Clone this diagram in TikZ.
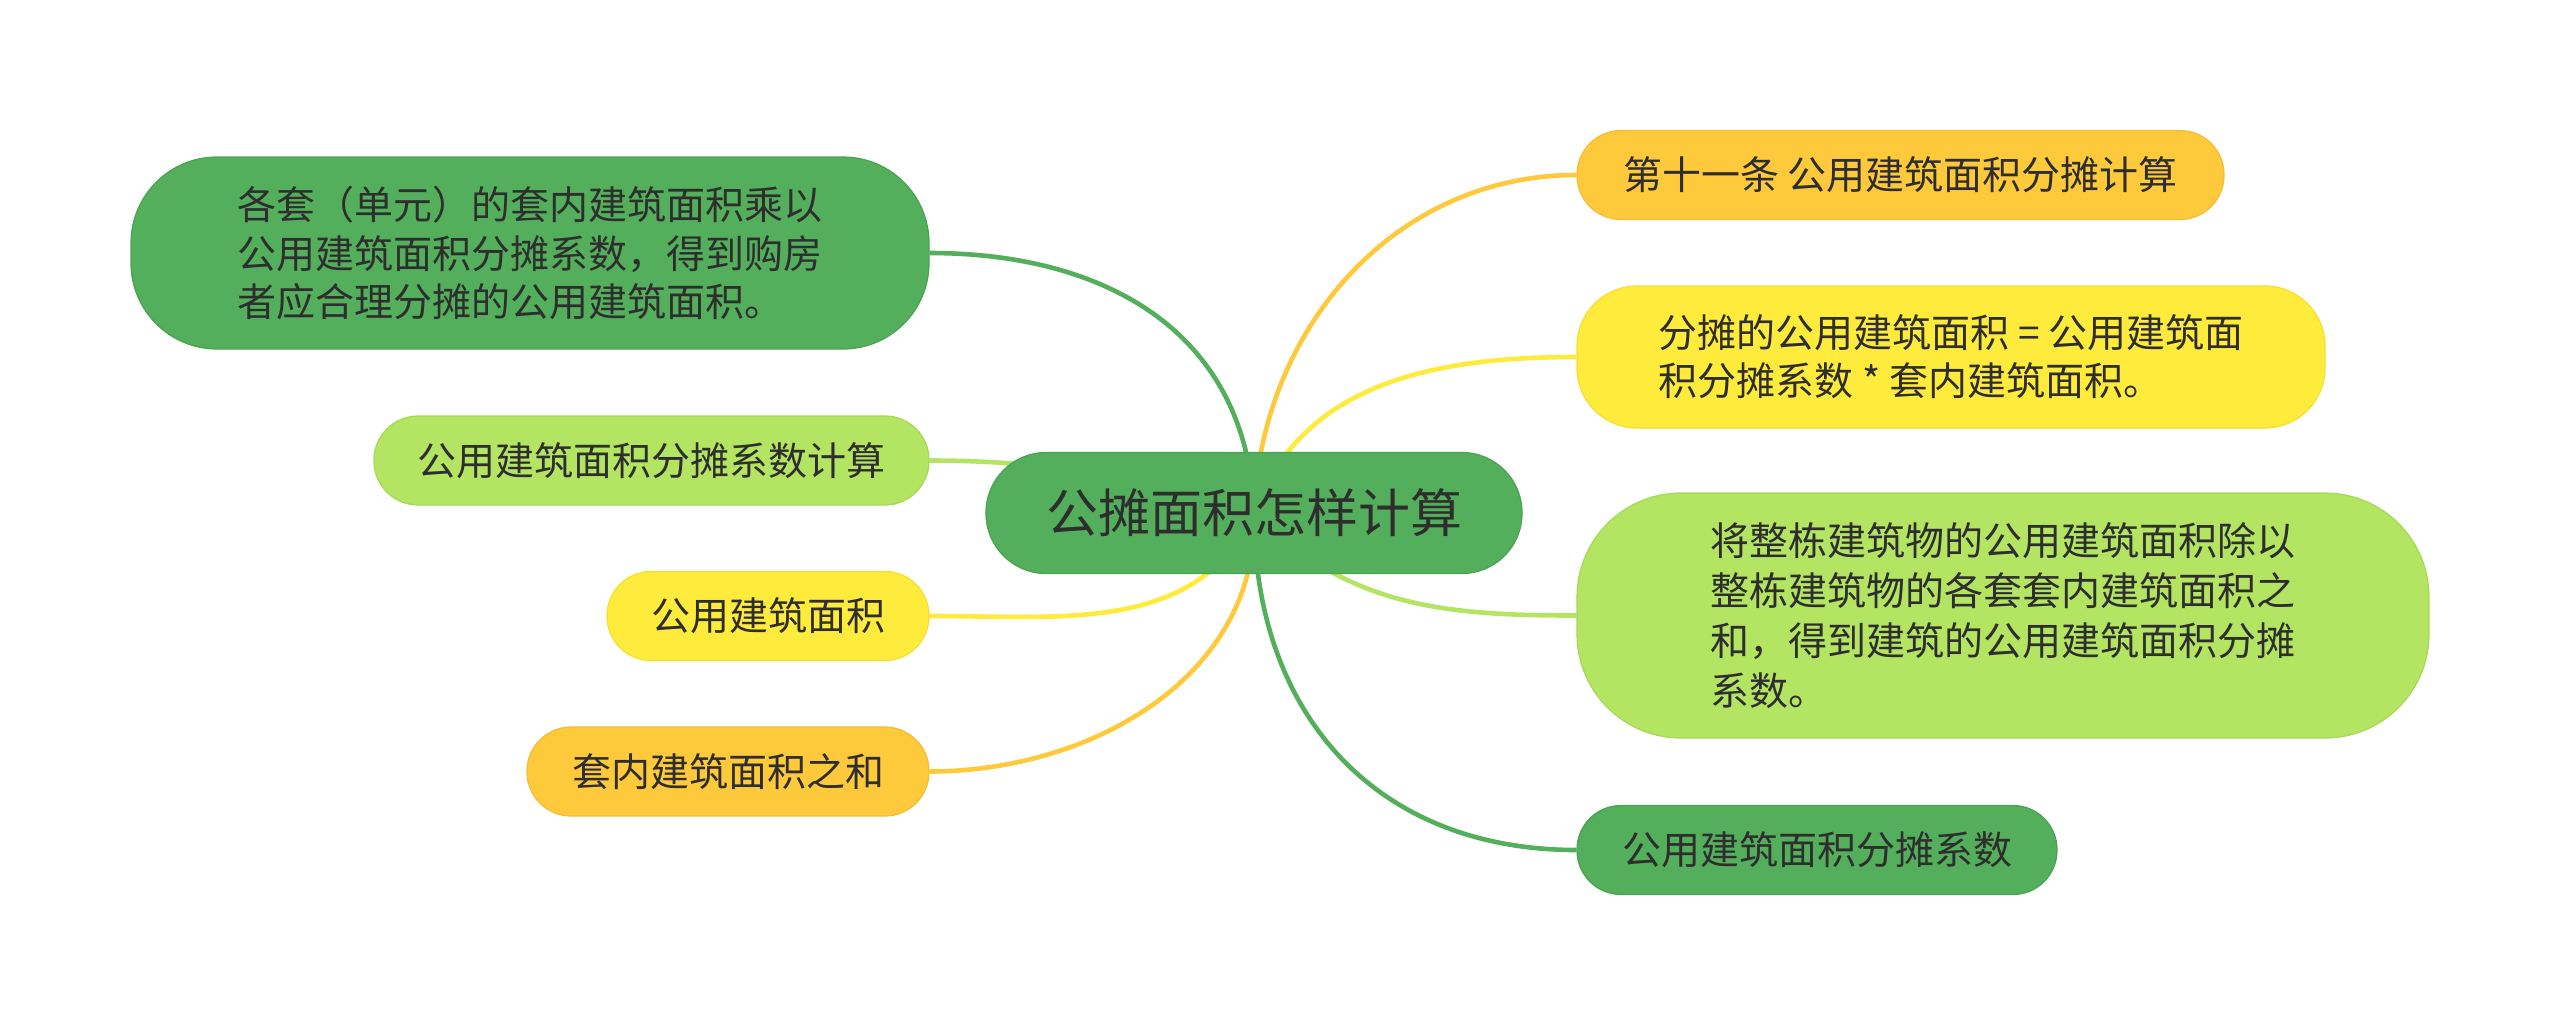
\documentclass[tikz,border=0pt]{standalone}
\usepackage{fontspec}
\setmainfont{Noto Sans CJK SC}
\definecolor{cdg}{HTML}{53AF5B}
\definecolor{cdgb}{HTML}{4AA352}
\definecolor{clg}{HTML}{B3E462}
\definecolor{clgb}{HTML}{A5D956}
\definecolor{cyl}{HTML}{FFEB3B}
\definecolor{cylb}{HTML}{F5E030}
\definecolor{cog}{HTML}{FFC93C}
\definecolor{cogb}{HTML}{F5BE32}
\definecolor{txt}{HTML}{2E2E2E}
\pgfdeclarelayer{bg}
\pgfsetlayers{bg,main}
\begin{document}
\begin{tikzpicture}[x=0.5pt,y=0.5pt,
  base/.style={rectangle, inner sep=0pt, text=txt, align=left, line width=0.6pt,
    font=\fontsize{19.5}{24}\selectfont},
  dg/.style={base, fill=cdg, draw=cdgb},
  lg/.style={base, fill=clg, draw=clgb},
  yl/.style={base, fill=cyl, draw=cylb},
  og/.style={base, fill=cog, draw=cogb},
  pill/.style={minimum height=44.5pt, rounded corners=22pt},
  link/.style={line width=2.3pt}]
\useasboundingbox (0,0) rectangle (2560,-1025);

% root
\node[dg, minimum width=268pt, minimum height=60.5pt, rounded corners=30pt,
  font=\fontsize{26}{32}\selectfont] (root) at (1254,-513) {公摊面积怎样计算};

% left side
\node[dg, minimum width=399pt, minimum height=96pt, rounded corners=43pt,
  font=\fontsize{19.5}{24.2}\selectfont] (l1) at (530,-253)
  {各套（单元）的套内建筑面积乘以\\公用建筑面积分摊系数，得到购房\\者应合理分摊的公用建筑面积。};
\node[lg, pill, minimum width=277.5pt] (l2) at (651.5,-460.5) {公用建筑面积分摊系数计算};
\node[yl, pill, minimum width=161pt] (l3) at (768,-616) {公用建筑面积};
\node[og, pill, minimum width=201pt] (l4) at (728,-771.5) {套内建筑面积之和};

% right side
\node[og, pill, minimum width=323.5pt] (r1) at (1900.5,-175) {第十一条 公用建筑面积分摊计算};
\node[yl, minimum width=374pt, minimum height=71pt, rounded corners=30pt] (r2) at (1951,-357)
  {分摊的公用建筑面积 = 公用建筑面\\积分摊系数 * 套内建筑面积。};
\node[lg, minimum width=426pt, minimum height=122.5pt, rounded corners=52pt,
  font=\fontsize{19.5}{25}\selectfont] (r3) at (2003,-615.5)
  {将整栋建筑物的公用建筑面积除以\\整栋建筑物的各套套内建筑面积之\\和，得到建筑的公用建筑面积分摊\\系数。};
\node[dg, pill, minimum width=240pt] (r4) at (1817,-850) {公用建筑面积分摊系数};

\begin{pgfonlayer}{bg}
\fill[white] (0,0) rectangle (2560,-1025);
\draw[link, cdg] (root.center) to[out=92, in=0, looseness=1.1] (l1.east);
\draw[link, clg] (root.center) to[out=165, in=0] (l2.east);
\draw[link, cyl] (root.center) to[out=-115, in=0] (l3.east);
\draw[link, cog] (root.center) to[out=-88, in=0] (l4.east);
\draw[link, cog] (root.center) to[out=88, in=180] (r1.west);
\draw[link, cyl] (root.center) to[out=70, in=180] (r2.west);
\draw[link, clg] (root.center) to[out=-45, in=180] (r3.west);
\draw[link, cdg] (root.center) to[out=-90, in=180, looseness=1.1] (r4.west);
\end{pgfonlayer}
\end{tikzpicture}
\end{document}
